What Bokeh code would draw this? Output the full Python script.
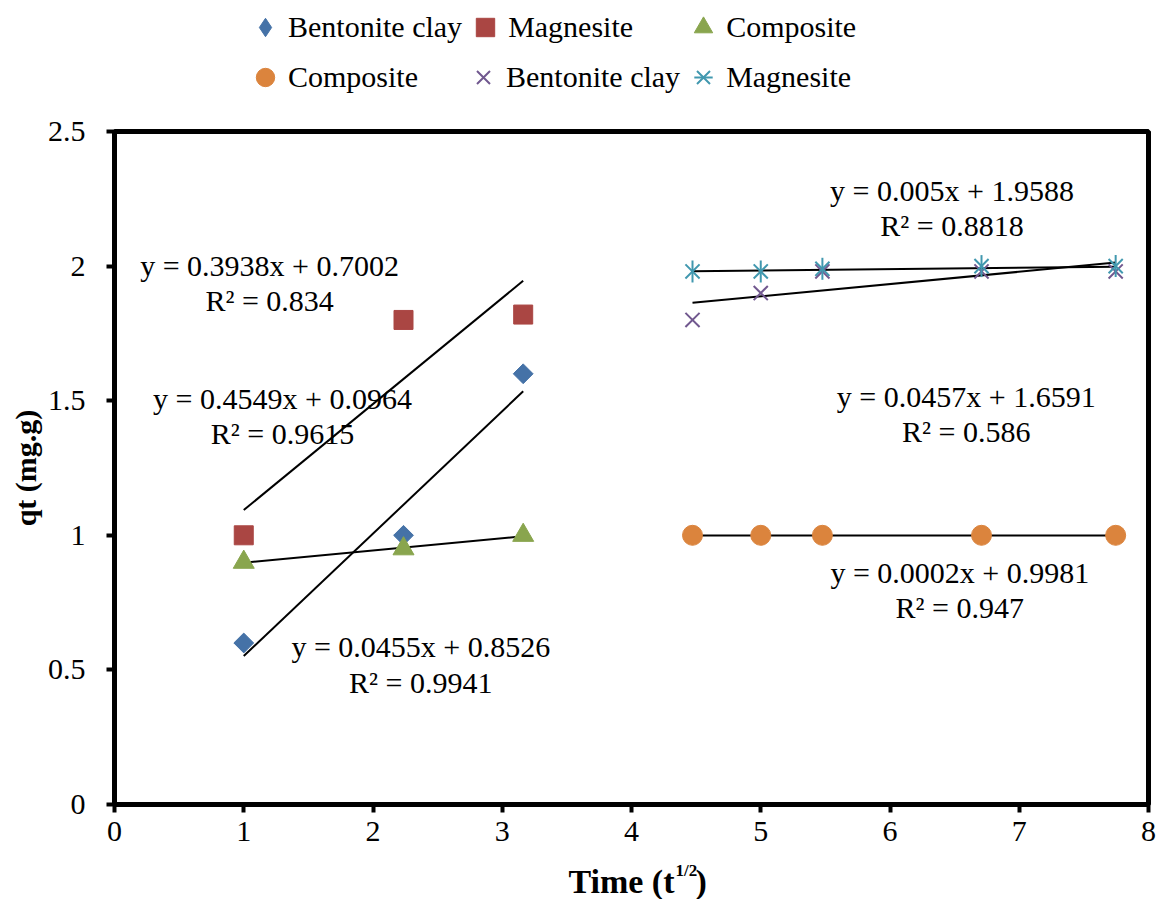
from bokeh.plotting import figure
from bokeh.layouts import column
from bokeh.models import Range1d, FixedTicker, Legend, LegendItem, ColumnDataSource
from bokeh.core.properties import value
from bokeh.embed import file_html
from bokeh.resources import INLINE
import numpy as np

# ---------------- data ----------------
x_left = [1.0, 2.236, 3.162]
bentonite_left = [0.6, 1.0, 1.6]
magnesite_left = [1.0, 1.8, 1.82]
composite_left = [0.9, 0.95, 1.0]

x_right = [4.472, 5.0, 5.477, 6.708, 7.746]
composite_right = [1.0, 1.0, 1.0, 1.0, 1.0]
bentonite_right = [1.8, 1.9, 1.98, 1.98, 1.98]
magnesite_right = [1.98, 1.98, 1.99, 2.0, 2.0]

# trendline coefficients (as printed on the chart)
trend_slopes = [0.4549, 0.3938, 0.0455, 0.0002, 0.0457, 0.005]
trend_intercepts = [0.0964, 0.7002, 0.8526, 0.9981, 1.6591, 1.9588]
trend_side = ["left", "left", "left", "right", "right", "right"]
eq_texts = ["y = 0.4549x + 0.0964", "y = 0.3938x + 0.7002", "y = 0.0455x + 0.8526",
            "y = 0.0002x + 0.9981", "y = 0.0457x + 1.6591", "y = 0.005x + 1.9588"]
r2_texts = ["R\u00b2 = 0.9615", "R\u00b2 = 0.834", "R\u00b2 = 0.9941",
            "R\u00b2 = 0.947", "R\u00b2 = 0.586", "R\u00b2 = 0.8818"]
eq_x = [1.30, 1.20, 2.37, 6.54, 6.59, 6.48]
eq_y = [1.508, 2.002, 0.587, 0.862, 1.516, 2.281]
r2_y = [1.378, 1.872, 0.453, 0.732, 1.386, 2.151]

x_ticks = [0, 1, 2, 3, 4, 5, 6, 7, 8]
y_ticks = [0, 0.5, 1, 1.5, 2, 2.5]
y_tick_labels = ["0", "0.5", "1", "1.5", "2", "2.5"]

legend_row1 = ["Bentonite clay", "Magnesite", "Composite"]
legend_row2 = ["Composite", "Bentonite clay", "Magnesite"]
x_title_parts = ["Time (t", "1/2", ")"]

FONT = "Liberation Serif"
BLUE = "#4572A7"
RED = "#AA4643"
GREEN = "#89A54E"
ORANGE = "#DB843D"
PURPLE = "#71588F"
AQUA = "#4198AF"

W = 1157
TOP_H = 110
MAIN_H = 745
BOT_H = 899 - TOP_H - MAIN_H

# ---------------- main plot ----------------
p = figure(width=W, height=MAIN_H, x_range=Range1d(0, 8), y_range=Range1d(0, 2.5),
           output_backend="svg", toolbar_location=None,
           min_border_left=114, min_border_right=9, min_border_top=131 - TOP_H,
           min_border_bottom=MAIN_H - (804 - TOP_H))
p.grid.visible = False
p.outline_line_color = "black"
p.outline_line_width = 5
p.border_fill_color = "white"

for ax in (p.xaxis, p.yaxis):
    ax.axis_line_width = 5
    ax.axis_line_color = "black"
    ax.major_tick_line_width = 4
    ax.major_tick_line_color = "black"
    ax.major_tick_out = 8
    ax.major_tick_in = 0
    ax.minor_tick_line_color = None
    ax.major_label_text_font = FONT
    ax.major_label_text_font_size = "30px"
    ax.major_label_text_color = "black"

p.xaxis.ticker = FixedTicker(ticks=x_ticks)
p.yaxis.ticker = FixedTicker(ticks=y_ticks)
p.yaxis.major_label_overrides = {t: l for t, l in zip(y_ticks, y_tick_labels)}
p.xaxis.major_label_standoff = 9
p.yaxis.major_label_standoff = 21

p.yaxis.axis_label = "qt (mg.g)"
p.yaxis.axis_label_text_font = FONT
p.yaxis.axis_label_text_font_style = "bold"
p.yaxis.axis_label_text_font_size = "30px"
p.yaxis.axis_label_text_color = "black"
p.yaxis.axis_label_standoff = 3

# trendlines
for m, c, side in zip(trend_slopes, trend_intercepts, trend_side):
    xs = x_left if side == "left" else x_right
    x0, x1 = min(xs), max(xs)
    p.line([x0, x1], [m * x0 + c, m * x1 + c], line_color="black", line_width=2)

# marker styles
sty_bl = dict(marker="square", angle=np.pi / 4, size=14, fill_color=BLUE, line_color=BLUE)
sty_ml = dict(marker="square", size=19, fill_color=RED, line_color=RED)
sty_cl = dict(marker="triangle", size=21, fill_color=GREEN, line_color=GREEN)
sty_cr = dict(marker="circle", size=20, fill_color=ORANGE, line_color=ORANGE)
sty_br = dict(marker="x", size=20, line_color=PURPLE, line_width=2)
sty_mr1 = dict(marker="x", size=20, line_color=AQUA, line_width=2)
sty_mr2 = dict(marker="dash", angle=np.pi / 2, size=22, line_color=AQUA, line_width=2)

p.scatter(x_left, bentonite_left, **sty_bl)
p.scatter(x_left, magnesite_left, **sty_ml)
p.scatter(x_left, composite_left, **sty_cl)
p.scatter(x_right, composite_right, **sty_cr)
p.scatter(x_right, bentonite_right, **sty_br)
p.scatter(x_right, magnesite_right, **sty_mr1)
p.scatter(x_right, magnesite_right, **sty_mr2)

# equations
src = ColumnDataSource(dict(x=eq_x + eq_x, y=eq_y + r2_y, t=eq_texts + r2_texts))
p.text(x="x", y="y", text="t", source=src, text_align="center",
       text_baseline="middle", text_font=value(FONT), text_font_size="30px",
       text_color="black")

# ---------------- legend strip (top) ----------------
pt = figure(width=W, height=TOP_H, x_range=Range1d(0, 1), y_range=Range1d(0, 1),
            output_backend="svg", toolbar_location=None,
            x_axis_type=None, y_axis_type=None,
            min_border_left=0, min_border_right=0, min_border_top=0, min_border_bottom=0)
pt.grid.visible = False
pt.outline_line_color = None
pt.border_fill_color = "white"

nan = [float("nan")]
e = dict(x=nan, y=nan)  # legend-only renderers (nothing drawn in the strip)
leg_bl = pt.scatter(**e, marker="diamond", fill_color=BLUE, line_color=BLUE)
leg_ml = pt.scatter(**e, **sty_ml)
leg_cl = pt.scatter(**e, **sty_cl)
leg_cr = pt.scatter(**e, **sty_cr)
leg_br = pt.scatter(**e, **sty_br)
leg_mr = [pt.scatter(**e, **sty_mr1), pt.scatter(**e, **sty_mr2)]

leg_kw = dict(orientation="horizontal", border_line_color=None, background_fill_alpha=0,
              padding=0, margin=0, spacing=0,
              glyph_width=46, glyph_height=46, label_standoff=0, label_width=172,
              label_text_font=FONT, label_text_font_size="30px",
              label_text_color="black")
leg1 = Legend(items=[LegendItem(label=legend_row1[0], renderers=[leg_bl]),
                     LegendItem(label=legend_row1[1], renderers=[leg_ml]),
                     LegendItem(label=legend_row1[2], renderers=[leg_cl])],
              location=(128, 60), **leg_kw)
leg2 = Legend(items=[LegendItem(label=legend_row2[0], renderers=[leg_cr]),
                     LegendItem(label=legend_row2[1], renderers=[leg_br]),
                     LegendItem(label=legend_row2[2], renderers=leg_mr)],
              location=(128, 10), **leg_kw)
pt.add_layout(leg1)
pt.add_layout(leg2)

# ---------------- x-axis title strip (bottom) ----------------
pb = figure(width=W, height=BOT_H, x_range=p.x_range, y_range=Range1d(0, BOT_H),
            output_backend="svg", toolbar_location=None,
            x_axis_type=None, y_axis_type=None,
            min_border_left=114, min_border_right=9, min_border_top=0, min_border_bottom=0)
pb.grid.visible = False
pb.outline_line_color = None
pb.border_fill_color = "white"
tkw = dict(text_font=value(FONT), text_font_style="bold", text_color="black",
           text_baseline="alphabetic")
pb.text(x=[4], y=[18], text=[x_title_parts[0]], x_offset=43, text_align="right",
        text_font_size="34px", **tkw)
pb.text(x=[4], y=[29], text=[x_title_parts[1]], x_offset=44, text_align="left",
        text_font_size="17px", **tkw)
pb.text(x=[4], y=[18], text=[x_title_parts[2]], x_offset=64, text_align="left",
        text_font_size="34px", **tkw)

layout = column(pt, p, pb, spacing=0)
open("out.html", "w").write(file_html(layout, INLINE))
